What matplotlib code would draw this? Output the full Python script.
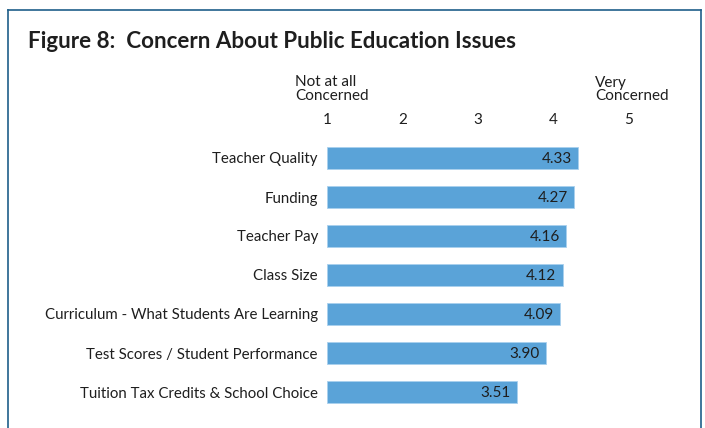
import matplotlib
matplotlib.use("Agg")
import matplotlib.pyplot as plt
from matplotlib.lines import Line2D

plt.rcParams['font.family'] = ['Lato', 'DejaVu Sans']

categories = [
    "Teacher Quality",
    "Funding",
    "Teacher Pay",
    "Class Size",
    "Curriculum - What Students Are Learning",
    "Test Scores / Student Performance",
    "Tuition Tax Credits & School Choice",
]
scores = [4.33, 4.27, 4.16, 4.12, 4.09, 3.90, 3.51]
scale_ticks = [1, 2, 3, 4, 5]
title = "Figure 8:  Concern About Public Education Issues"
low_label = "Not at all\nConcerned"
high_label = "Very\nConcerned"

W, H = 705, 428
fig = plt.figure(figsize=(W / 100, H / 100), dpi=100)

# axes placed in pixel units: x=1 at 327px, x=5 at 629px; rows 158..392px
x0, x1 = 327, 629
ytop, ybot = 138.5, 411.5
ax = fig.add_axes([x0 / W, (H - ybot) / H, (x1 - x0) / W, (ybot - ytop) / H])

bar_color = "#5aa3d8"
text_color = "#1e1e1e"
base = scale_ticks[0]
ypos = list(range(len(categories)))
ax.barh(ypos, [s - base for s in scores], left=base, height=0.54,
        color=bar_color, edgecolor="#a9d0ee", linewidth=0.6)

for y, s in zip(ypos, scores):
    ax.text(s - 0.08, y + 0.03, f"{s:.2f}", ha="right", va="center",
            fontsize=11, color=text_color)

ax.set_xlim(1, 5)
ax.set_ylim(len(categories) - 0.5, -0.5)
ax.set_yticks(ypos)
ax.set_yticklabels(categories, fontsize=10.8, color=text_color)
ax.xaxis.tick_top()
ax.set_xticks(scale_ticks)
ax.set_xticklabels([str(t) for t in scale_ticks], fontsize=11, color=text_color)
ax.tick_params(axis="both", length=0)
ax.tick_params(axis="y", pad=6.5)
ax.tick_params(axis="x", pad=8)
for sp in ax.spines.values():
    sp.set_visible(False)

# scale end captions
fig.text(295 / W, 1 - 75.5 / H, low_label, ha="left", va="top",
         fontsize=11, color=text_color, linespacing=1.0)
fig.text(595 / W, 1 - 75.5 / H, high_label, ha="left", va="top",
         fontsize=11, color=text_color, linespacing=1.0)

fig.text(28 / W, 1 - 42 / H, title, ha="left", va="center",
         fontsize=16.1, fontweight="bold", color=text_color)

# frame around the figure panel (open at the bottom)
frame_color = "#1f5f8a"
lx, rx, ty = 7.5 / W, 701 / W, 1 - 10 / H
for xs, ys in [([lx, lx], [0, ty]), ([lx, rx], [ty, ty]), ([rx, rx], [ty, 0])]:
    fig.add_artist(Line2D(xs, ys, transform=fig.transFigure,
                          color=frame_color, linewidth=1.2))

fig.savefig("out.png", dpi=100)
